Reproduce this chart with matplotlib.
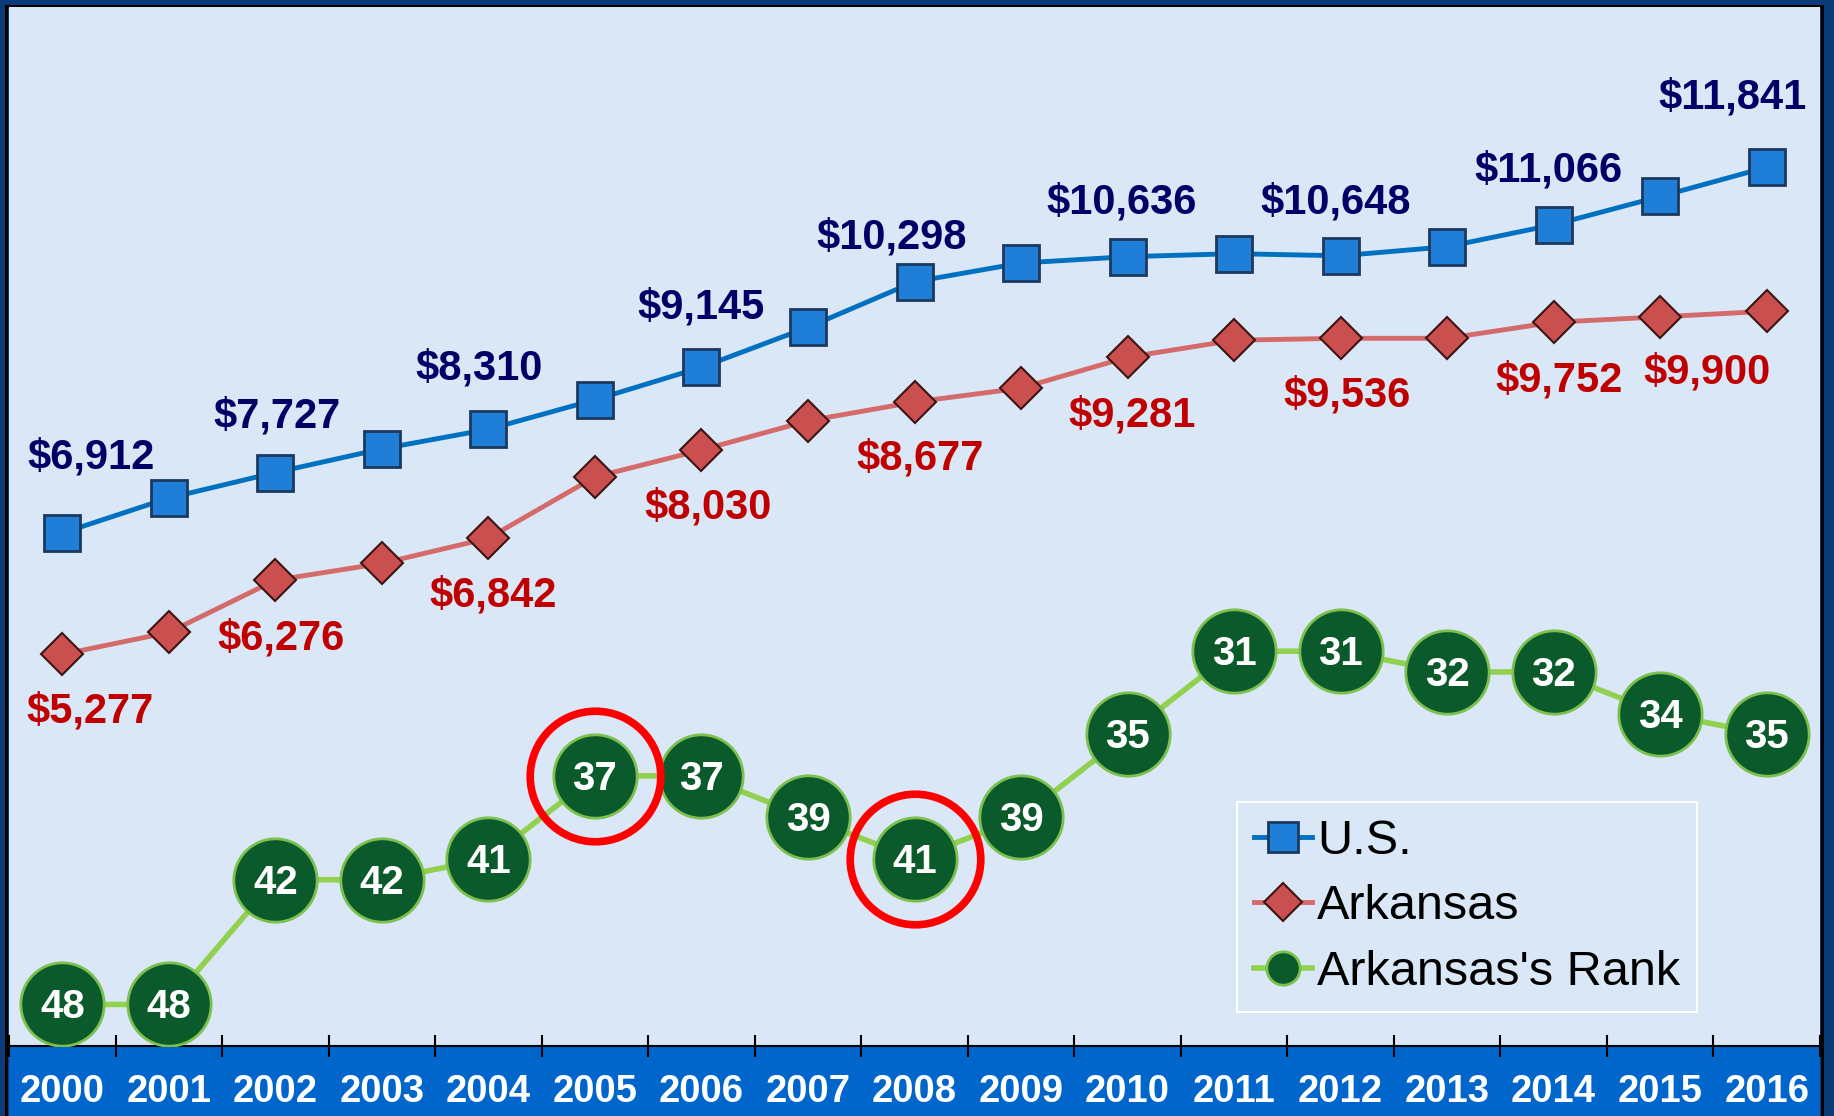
import numpy as np
import matplotlib.pyplot as plt
from matplotlib.patches import Rectangle
from matplotlib.lines import Line2D

plt.rcParams['font.family'] = ['Liberation Sans', 'DejaVu Sans']

# -------------------------------------------------
# data (per-pupil spending, Arkansas rank)
# -------------------------------------------------
years = [str(y) for y in range(2000, 2017)]
us_spending = [6912, 7384, 7727, 8046, 8310, 8707, 9145, 9684, 10298,
               10550, 10636, 10676, 10648, 10770, 11066, 11447, 11841]
ar_spending = [5277, 5573, 6276, 6503, 6842, 7668, 8030, 8424, 8677,
               8865, 9281, 9510, 9536, 9536, 9752, 9825, 9900]
ar_rank = [48, 48, 42, 42, 41, 37, 37, 39, 41, 39, 35, 31, 31, 32, 32, 34, 35]
labeled_years = years[::2]
highlight_years = ['2005', '2008']

# label offsets in pixels (dx, dy up)
us_off = {'2000': (29, 76), '2002': (2, 56), '2004': (-9, 61), '2006': (0, 60),
          '2008': (-23, 44), '2010': (-6, 54), '2012': (-5, 53), '2014': (-5, 54),
          '2016': (-34, 70)}
ar_off = {'2000': (28, -57), '2002': (6, -58), '2004': (5, -57), '2006': (7, -57),
          '2008': (6, -56), '2010': (5, -58), '2012': (6, -57), '2014': (5, -58),
          '2016': (-60, -61)}

# colours
bg_panel = '#d9e7f6'
us_line, us_face, us_edge = '#0070c0', '#1f7fd8', '#1b3a5e'
ar_line, ar_face, ar_edge = '#d46a6a', '#c9504e', '#3d1414'
rk_line, rk_face, rk_edge = '#92d050', '#0b5a2b', '#7cc04e'

W, H = 1834, 1116
fig = plt.figure(figsize=(W / 100, H / 100), dpi=100)
fig.patch.set_facecolor('#0b3b78')

x = np.arange(len(years))
ax = fig.add_axes([9 / W, 70 / H, (1820 - 9) / W, (1046 - 7) / H])
ax.set_facecolor(bg_panel)
ax.set_xlim(-0.5, len(years) - 0.5)
ax.set_ylim(0, 14000)

# bottom band + frame
fig.add_artist(Rectangle((9 / W, 0), (1820 - 9) / W, 70 / H, transform=fig.transFigure,
                         facecolor='#0066cc', edgecolor='none', zorder=0))
fig.add_artist(Rectangle((5.5 / W, -0.01), (1822 - 5.5) / W, (H - 5.5) / H + 0.01,
                         transform=fig.transFigure, fill=False, edgecolor='black',
                         linewidth=2.2, zorder=0))

ax.plot(x, us_spending, color=us_line, lw=3.5, marker='s', ms=26,
        mfc=us_face, mec=us_edge, mew=2, zorder=3)
ax.plot(x, ar_spending, color=ar_line, lw=3.5, marker='D', ms=21,
        mfc=ar_face, mec=ar_edge, mew=1.5, zorder=3)

for i, yr in enumerate(years):
    if yr in labeled_years:
        dx, dy = us_off[yr]
        ax.annotate(f"${us_spending[i]:,}", xy=(i, us_spending[i]), xytext=(dx, dy),
                    textcoords='offset pixels', ha='center', va='center',
                    fontsize=30, fontweight='bold', color='#000066', zorder=4)
        dx, dy = ar_off[yr]
        ax.annotate(f"${ar_spending[i]:,}", xy=(i, ar_spending[i]), xytext=(dx, dy),
                    textcoords='offset pixels', ha='center', va='center',
                    fontsize=30, fontweight='bold', color='#c00000', zorder=4)

# x axis
ax.set_xticks(x)
ax.set_xticklabels(years, fontsize=27.5, fontweight='bold', color='white')
ax.set_xticks(np.arange(-0.5, len(years), 1), minor=True)
ax.tick_params(axis='x', which='major', length=0, pad=20)
ax.tick_params(axis='x', which='minor', direction='inout', length=16, width=1.5, color='black')
ax.set_yticks([])
for s in ['top', 'left', 'right']:
    ax.spines[s].set_visible(False)
ax.spines['bottom'].set_linewidth(1.5)

# rank axis
ax2 = ax.twinx()
ax2.set_ylim(50, 0)
ax2.set_yticks([])
for s in ax2.spines.values():
    s.set_visible(False)
ax2.plot(x, ar_rank, color=rk_line, lw=4, marker='o', ms=60,
         mfc=rk_face, mec=rk_edge, mew=2, zorder=3)
for i, r in enumerate(ar_rank):
    ax2.annotate(str(r), xy=(i, r), xytext=(0, -3), textcoords='offset pixels',
                 ha='center', va='center', fontsize=29,
                 fontweight='bold', color='white', zorder=4)

hx = [years.index(y) for y in highlight_years]
ax2.plot(hx, [ar_rank[i] for i in hx], linestyle='none', marker='o', ms=94,
         mfc='none', mec='#ff0000', mew=5.5, zorder=5)

handles = [
    Line2D([], [], color=us_line, lw=3.5, marker='s', ms=22, mfc=us_face, mec=us_edge, mew=2),
    Line2D([], [], color=ar_line, lw=3.5, marker='D', ms=19, mfc=ar_face, mec=ar_edge, mew=1.5),
    Line2D([], [], color=rk_line, lw=4, marker='o', ms=24, mfc=rk_face, mec=rk_edge, mew=2),
]
leg = ax2.legend(handles, ['U.S.', 'Arkansas', "Arkansas's Rank"],
                 loc='upper left', bbox_to_anchor=(1237 / W, 1 - 802 / H),
                 bbox_transform=fig.transFigure, borderaxespad=0,
                 fontsize=35, handlelength=1.2, handletextpad=0.1,
                 labelspacing=0.42, borderpad=0.35, fancybox=False, framealpha=1)
leg.get_frame().set_facecolor(bg_panel)
leg.get_frame().set_edgecolor('white')
leg.get_frame().set_linewidth(1.5)
leg.set_zorder(6)

fig.savefig('out.png', dpi=100, facecolor=fig.get_facecolor())
